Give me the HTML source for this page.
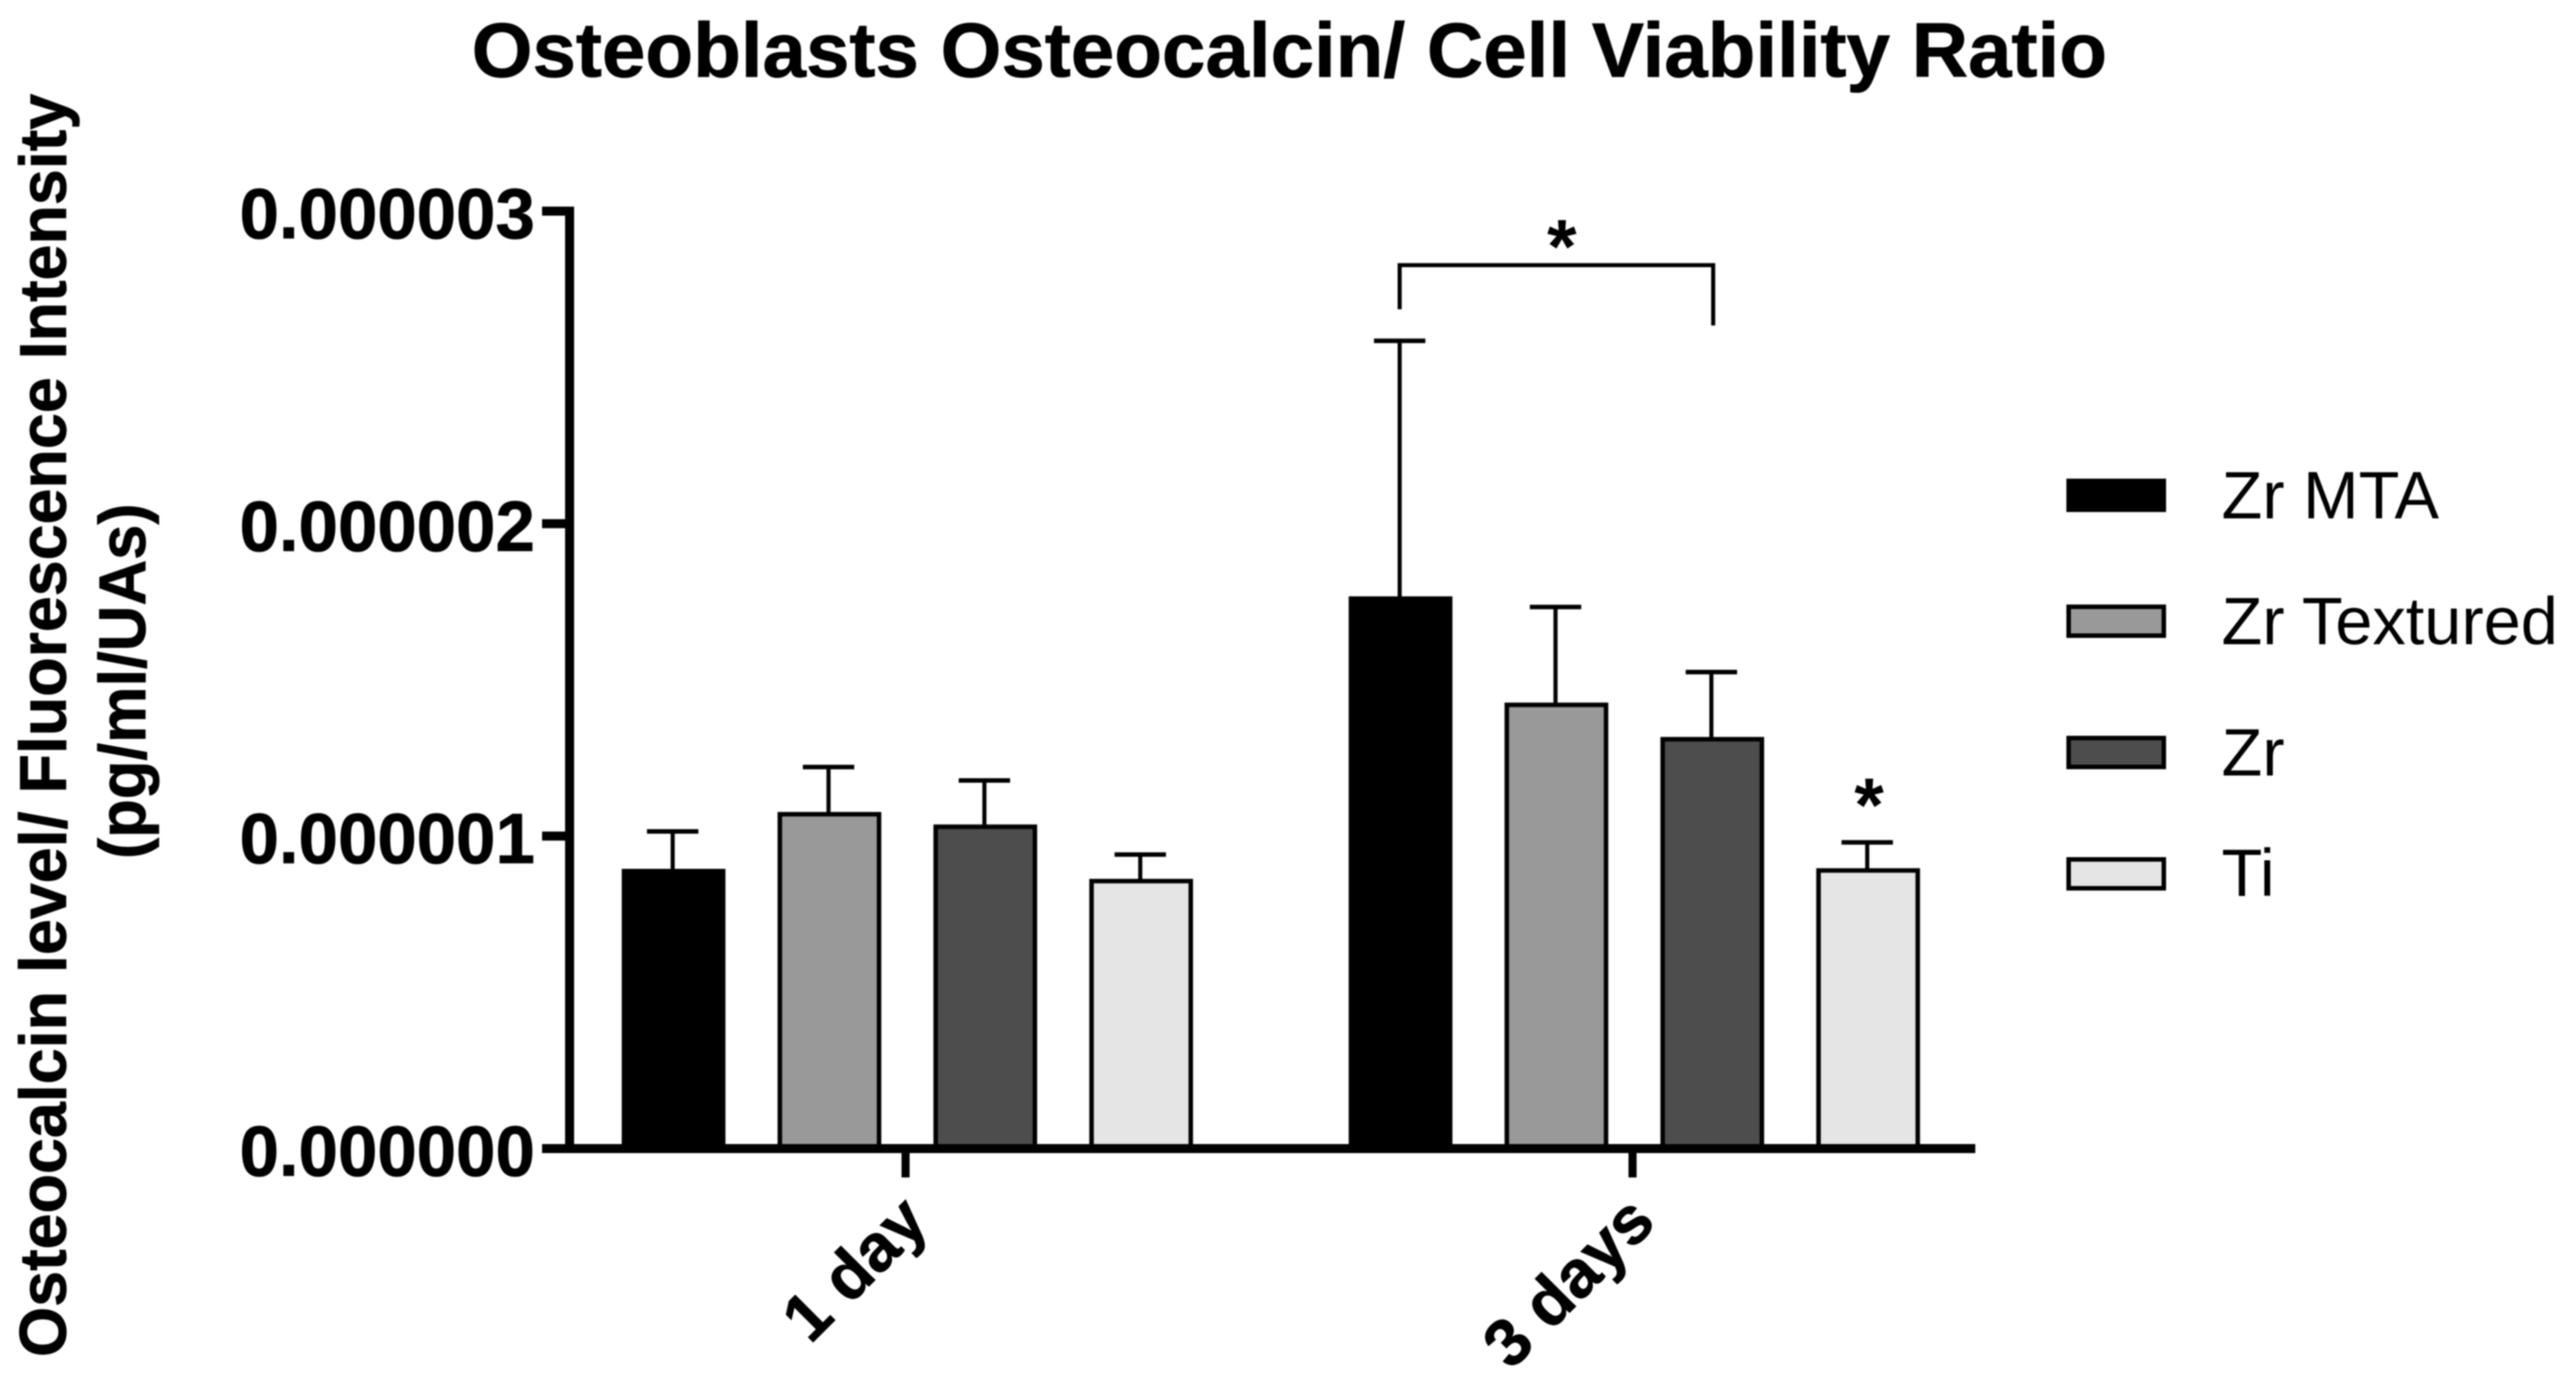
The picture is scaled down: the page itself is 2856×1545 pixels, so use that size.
<!DOCTYPE html>
<html lang="en">
<head>
<meta charset="utf-8">
<title>Osteoblasts Osteocalcin/ Cell Viability Ratio</title>
<style>
html,body{margin:0;padding:0;background:#fff;width:2856px;height:1545px;overflow:hidden}
svg{display:block;filter:blur(0.7px)}
text{font-family:"Liberation Sans",Arial,sans-serif;fill:#000}
.b{font-weight:700;stroke:#000;stroke-width:0.8px}
</style>
</head>
<body>
<svg id="chart" xmlns="http://www.w3.org/2000/svg" width="2856" height="1545" viewBox="0 0 2856 1545">
<rect x="0" y="0" width="2856" height="1545" fill="#fff"/>
<text class="b" x="523" y="85" font-size="85" textLength="1813" lengthAdjust="spacingAndGlyphs">Osteoblasts Osteocalcin/ Cell Viability Ratio</text>
<text class="b" transform="translate(73 1504) rotate(-90)" font-size="73" textLength="1400" lengthAdjust="spacingAndGlyphs">Osteocalcin level/ Fluorescence Intensity</text>
<text class="b" transform="translate(161 952) rotate(-90)" font-size="73" textLength="394" lengthAdjust="spacingAndGlyphs">(pg/ml/UAs)</text>
<g id="legend"></g>
<g id="marks"></g>
<g id="axes"></g>
<g id="annotations"></g>
</svg>
<script>
const categories = ["1 day", "3 days"];
const seriesNames = ["Zr MTA", "Zr Textured", "Zr", "Ti"];
const seriesColors = ["#000000", "#999999", "#4d4d4d", "#e5e5e5"];
const zrMta = [0.000000888, 0.00000176];
const zrTextured = [0.00000107, 0.00000142];
const zr = [0.00000103, 0.00000131];
const ti = [0.000000856, 0.00000089];
const zrMtaErr = [0.000001015, 0.000002585];
const zrTexturedErr = [0.000001221, 0.000001733];
const zrErr = [0.000001178, 0.000001525];
const tiErr = [0.000000941, 0.00000098];
const yTicks = [0, 0.000001, 0.000002, 0.000003];
const yTickLabels = ["0.000000", "0.000001", "0.000002", "0.000003"];
const bracketTop = 0.000002827;
const bracketLeftEnd = 0.000002686;
const bracketRightEnd = 0.000002634;

const values = [zrMta, zrTextured, zr, ti];
const errors = [zrMtaErr, zrTexturedErr, zrErr, tiErr];
const NS = "http://www.w3.org/2000/svg";

function y(v) { return 1273 - (v / 0.000003) * 1039; }
function groupX(i) { return 1006 + i * 806; }
function barX(i, s) { return groupX(i) + (s - 1.5) * 172.8; }

function make(parent, tag, attrs) {
  const el = document.createElementNS(NS, tag);
  for (const k in attrs) el.setAttribute(k, attrs[k]);
  parent.appendChild(el);
  return el;
}

const marks = document.getElementById("marks");
const axes = document.getElementById("axes");
const legend = document.getElementById("legend");
const annotations = document.getElementById("annotations");
const BAR_W = 110, STROKE = 5;

categories.forEach((cat, i) => {
  seriesNames.forEach((name, s) => {
    const cx = barX(i, s);
    const top = y(values[s][i]);
    const errTop = y(errors[s][i]);
    const stem = make(marks, "line", { x1: cx - 1, x2: cx - 1, y1: top, y2: errTop, stroke: "#000", "stroke-width": 4.5 });
    
    
    const cap = make(marks, "line", { x1: cx - 29.5, x2: cx + 27.5, y1: errTop, y2: errTop, stroke: "#000", "stroke-width": 5 });
    
    
    const bar = make(marks, "rect", { x: cx - BAR_W / 2, y: top, width: BAR_W, height: y(0) - top, fill: seriesColors[s], stroke: "#000", "stroke-width": STROKE });
    
    
  });
});

const yLine = make(axes, "line", { x1: 631.5, x2: 631.5, y1: y(yTicks[yTicks.length - 1]) - 5, y2: y(0) + 5, stroke: "#000", "stroke-width": 10 });


const xLine = make(axes, "line", { x1: 601, x2: 2190, y1: y(0), y2: y(0), stroke: "#000", "stroke-width": 10 });



yTicks.forEach((t, k) => {
  const tick = make(axes, "line", { x1: 601, x2: 632, y1: y(t), y2: y(t), stroke: "#000", "stroke-width": 10 });
  
  
  const lab = make(axes, "text", { x: 593, y: y(t) + 30, "font-size": 78.5, "font-weight": 700, "text-anchor": "end", stroke: "#000", "stroke-width": 0.8 });
  
  
  lab.textContent = yTickLabels[k];
});

categories.forEach((cat, i) => {
  const tx = groupX(i) - 2;
  const tick = make(axes, "line", { x1: tx, x2: tx, y1: y(0), y2: y(0) + 32, stroke: "#000", "stroke-width": 9 });
  
  
  const ax = tx + 28, ay = y(0) + 84;
  const lab = make(axes, "text", { transform: "translate(" + ax + " " + ay + ") rotate(-45)", "font-size": 74, "font-weight": 700, "text-anchor": "end", stroke: "#000", "stroke-width": 0.8 });
  
  
  lab.textContent = cat;
});

const legendTop = [549, 688.5, 834, 968.5];
const legendBase = [574.6, 714, 859.5, 993];
seriesNames.forEach((name, s) => {
  const sw = make(legend, "rect", { x: 2293.5, y: legendTop[s] - 16, width: 105.5, height: 32, fill: seriesColors[s], stroke: "#000", "stroke-width": 5 });
  
  
  const t = make(legend, "text", { x: 2463, y: legendBase[s], "font-size": 74 });
  
  
  t.textContent = name;
});

const bl = barX(1, 0) - 1, br = barX(1, 2) + 1;
const bracket = make(annotations, "path", {
  d: "M" + bl + " " + y(bracketLeftEnd) + " V" + y(bracketTop) + " H" + br + " V" + y(bracketRightEnd),
  fill: "none", stroke: "#000", "stroke-width": 4.5
});



const star1 = make(annotations, "text", { x: (bl + br) / 2 + 6, y: 302, "font-size": 84, "font-weight": 700, "text-anchor": "middle" });


star1.textContent = "*";
const star2 = make(annotations, "text", { x: barX(1, 3) + 1, y: 921, "font-size": 84, "font-weight": 700, "text-anchor": "middle" });


star2.textContent = "*";
</script>
</body>
</html>
